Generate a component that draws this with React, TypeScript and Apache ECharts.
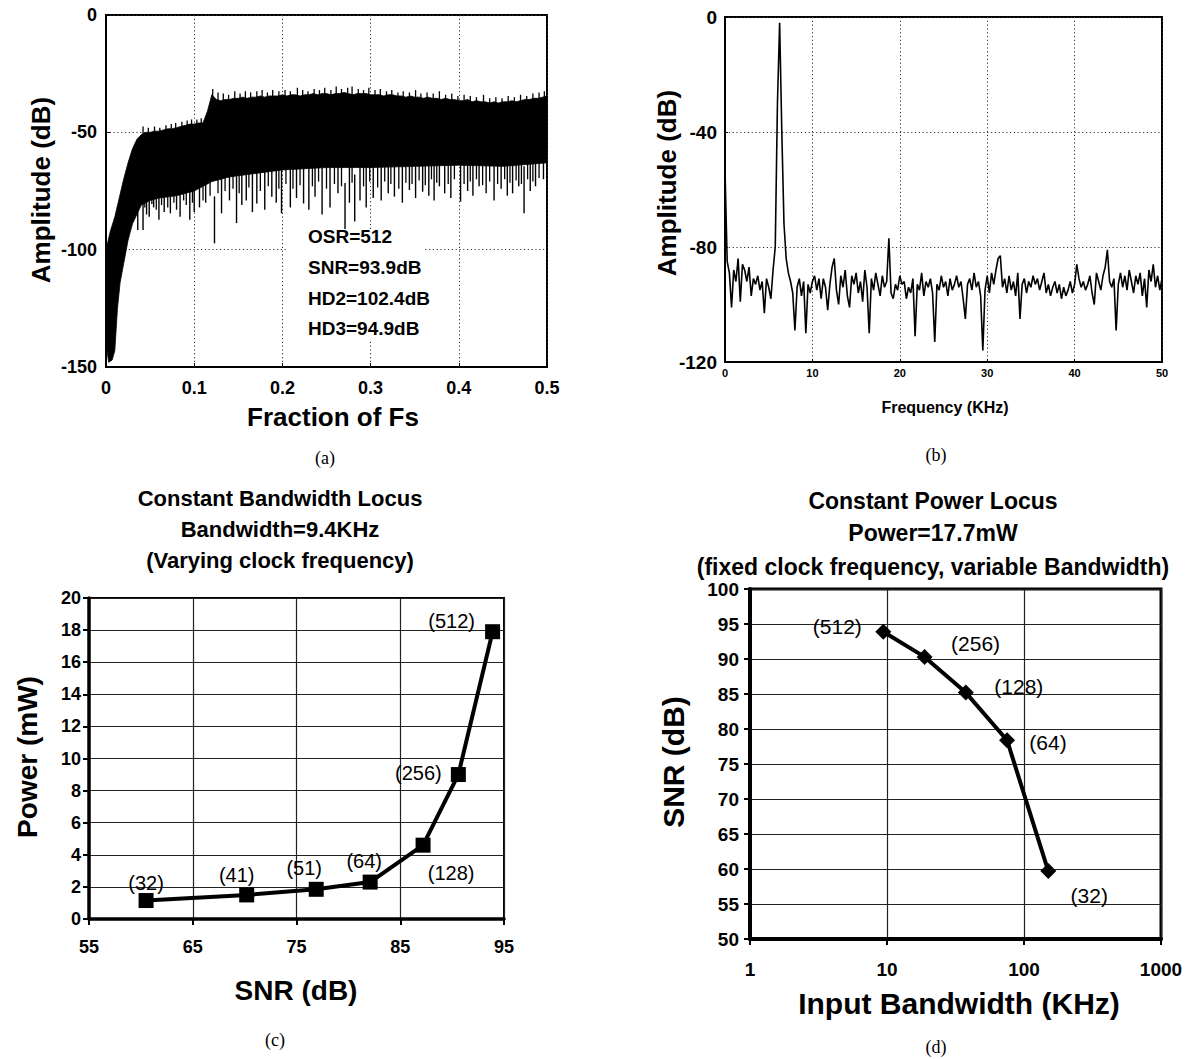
import React, { useEffect, useRef } from 'react';
import * as echarts from 'echarts';

const FONT = "'Liberation Sans', Arial, Helvetica, sans-serif";
const SERIF = "'Liberation Serif', 'Times New Roman', serif";

// ---------- (a) output spectrum, OSR = 512 ----------
const aBinStep = 0.005; // fraction of Fs between upper-envelope readings
const aUpper = [
  -100, -92, -86, -78, -70, -63, -57, -53, -51, -50,
  -50, -49.5, -49.5, -49, -48.5, -48.5, -48, -47.5, -47, -46.5,
  -46.5, -46, -46, -41, -34, -36, -36.5, -36, -36, -35.5,
  -35.5, -35, -35.5, -35, -35, -34.5, -35, -34.5, -34.5, -34.5,
  -34, -34.5, -34, -34, -34.5, -34, -34, -33.5, -34, -33.5,
  -33.5, -34, -33.5, -33.5, -33, -33.5, -34, -33.5, -33.5, -33.5,
  -34, -34, -34, -34.5, -34, -34, -34.5, -34.5, -35, -34.5,
  -35, -35, -35.5, -35, -35.5, -35.5, -36, -35.5, -36, -36,
  -36.5, -36.5, -36, -37, -36.5, -37, -37, -37.5, -37, -37.5,
  -37, -37, -36.5, -37, -36.5, -36, -36, -35.5, -35.5, -35,
  -34.5,
];
const aLowerX = [0, 0.003, 0.007, 0.01, 0.013, 0.016, 0.02, 0.025, 0.03, 0.035, 0.04, 0.05, 0.06, 0.08, 0.1, 0.12, 0.14, 0.16, 0.18, 0.2, 0.25, 0.3, 0.35, 0.4, 0.45, 0.5];
const aLowerY = [-140, -148, -147, -143, -125, -114, -106, -96, -89, -85, -81, -79, -78, -77, -75, -71, -69, -68, -67, -66, -65, -65, -64.5, -64, -64.5, -63];
// upward noise peaks on the top edge
const aPeakX = [
  0.042, 0.048, 0.055, 0.061, 0.068, 0.074, 0.079, 0.086, 0.092, 0.097, 0.103, 0.108,
  0.121, 0.127, 0.133, 0.139, 0.146, 0.152, 0.158, 0.164, 0.171, 0.177, 0.183, 0.189,
  0.196, 0.203, 0.209, 0.217, 0.223, 0.229, 0.236, 0.242, 0.248, 0.255, 0.261, 0.267,
  0.274, 0.279, 0.286, 0.292, 0.298, 0.305, 0.311, 0.318, 0.324, 0.331, 0.337, 0.344,
  0.351, 0.357, 0.364, 0.371, 0.378, 0.385, 0.392, 0.399, 0.406, 0.413, 0.42, 0.428,
  0.435, 0.442, 0.449, 0.456, 0.463, 0.47, 0.477, 0.484, 0.491, 0.497,
];
const aPeakY = [
  -47.5, -48, -47.5, -48, -47, -46.5, -46, -45.5, -45, -44.5, -44.5, -44,
  -31.5, -33, -33.5, -34, -32.5, -33.5, -32.5, -33, -32.5, -32, -33, -32,
  -32.5, -32, -32.5, -31, -32, -32.5, -31.5, -32, -31, -32, -30.5, -31.5,
  -31, -30.5, -31.5, -32, -31, -32, -31.5, -32.5, -32, -33, -32.5, -33,
  -32, -33.5, -33, -33.5, -32.5, -34, -33.5, -34.5, -34, -34.5, -35, -34,
  -35.5, -35, -35.5, -34.5, -35, -34, -34.5, -33.5, -33, -32.5,
];
// downward noise spikes below the dense band
const aSpikeX = [
  0.033, 0.036, 0.042, 0.046, 0.049, 0.054, 0.06, 0.066, 0.073, 0.08, 0.084, 0.088, 0.095, 0.1, 0.106, 0.113,
  0.123, 0.131, 0.14, 0.148, 0.154, 0.159, 0.166, 0.171, 0.18, 0.188, 0.193, 0.199, 0.209, 0.216, 0.224, 0.23,
  0.237, 0.245, 0.254, 0.263, 0.271, 0.276, 0.282, 0.288, 0.295, 0.303, 0.312, 0.32, 0.327, 0.336, 0.344, 0.351,
  0.359, 0.366, 0.372, 0.378, 0.384, 0.391, 0.402, 0.41, 0.416, 0.423, 0.431, 0.44, 0.448, 0.455, 0.461, 0.468,
  0.474, 0.481, 0.487, 0.496,
];
const aSpikeY = [
  -84.5, -91.6, -91.6, -85, -86, -82, -87.3, -84, -84.5, -83, -86, -79, -87.3, -84, -82, -80,
  -97.3, -84.5, -79, -88.7, -81, -79, -84, -80.3, -83, -77.4, -80, -84.5, -82, -78, -80.3, -83,
  -77.4, -85, -82, -76, -91.6, -80, -88, -79, -82, -78, -79, -76, -77.4, -80, -74.6, -78,
  -75.3, -77, -79, -73, -76, -78, -79.5, -75, -77, -73, -76, -79, -74, -77, -76, -73,
  -84.5, -75, -73, -70,
];
// shallower dips filling the ragged lower fringe
const aDipX = [
  0.044, 0.052, 0.057, 0.063, 0.07, 0.077, 0.091, 0.098, 0.11, 0.118, 0.127, 0.135, 0.144, 0.151,
  0.162, 0.175, 0.184, 0.196, 0.204, 0.212, 0.22, 0.234, 0.241, 0.25, 0.259, 0.267, 0.279, 0.292,
  0.299, 0.308, 0.316, 0.323, 0.332, 0.34, 0.347, 0.355, 0.362, 0.369, 0.375, 0.388, 0.395, 0.406,
  0.413, 0.42, 0.427, 0.435, 0.444, 0.452, 0.458, 0.465, 0.471, 0.478, 0.484, 0.491,
];
const aDipY = [
  -82, -80.5, -83, -81, -82, -80, -81, -80, -79, -77, -76, -75, -74, -76,
  -73.5, -75, -73, -74, -72, -74, -72.5, -73, -71, -74, -72, -73, -71.5, -73,
  -71, -73.5, -71, -72, -74, -71.5, -72, -70.5, -72.5, -70, -71.5, -72, -70, -72,
  -71, -70, -72.5, -71, -72, -70, -71.5, -70.5, -72, -70, -71, -69.5,
];
const aNotes = ['OSR=512', 'SNR=93.9dB', 'HD2=102.4dB', 'HD3=94.9dB'];

// ---------- (b) output spectrum vs frequency ----------
const bBinStep = 0.25; // kHz between readings
const bAmplitude = [
  -53, -85, -89, -101, -88, -92, -84, -99, -86, -88, -92, -87, -97, -91, -93, -90, -95, -92, -103, -91,
  -94, -98, -88, -80, -30, -2, -40, -72, -84, -89, -92, -96, -109, -94, -91, -97, -92, -110, -93, -96,
  -92, -90, -95, -91, -98, -91, -94, -102, -93, -87, -84, -95, -100, -90, -94, -88, -97, -101, -90, -93,
  -89, -96, -92, -99, -88, -94, -110, -91, -95, -89, -93, -97, -90, -94, -92, -77, -96, -98, -93, -95,
  -90, -93, -92, -98, -94, -96, -91, -111, -93, -95, -89, -97, -92, -94, -91, -96, -113, -93, -95, -90,
  -94, -92, -97, -91, -95, -93, -90, -94, -92, -98, -105, -93, -91, -95, -89, -94, -92, -97, -116, -95,
  -90, -96, -89, -93, -88, -84, -83, -94, -91, -96, -90, -95, -92, -97, -89, -105, -93, -91, -96, -92,
  -94, -90, -93, -91, -95, -92, -89, -96, -93, -97, -94, -92, -96, -93, -98, -94, -97, -95, -92, -96,
  -93, -86, -91, -94, -92, -95, -93, -90, -96, -100, -89, -92, -95, -90, -87, -81, -92, -94, -91, -109,
  -93, -89, -94, -90, -95, -88, -92, -96, -90, -93, -89, -97, -91, -101, -88, -92, -86, -94, -90, -95,
  -91,
];

// ---------- (c) constant bandwidth locus ----------
const cSnr = [60.5, 70.2, 76.9, 82.1, 87.2, 90.6, 93.9];
const cPower = [1.15, 1.5, 1.85, 2.3, 4.6, 9.0, 17.9];
const cOsr = ['(32)', '(41)', '(51)', '(64)', '(128)', '(256)', '(512)'];
const cTitle = ['Constant Bandwidth Locus', 'Bandwidth=9.4KHz', '(Varying clock frequency)'];

// ---------- (d) constant power locus ----------
const dBandwidth = [9.4, 18.8, 37.6, 75.2, 150.4];
const dSnr = [93.9, 90.3, 85.2, 78.4, 59.7];
const dOsr = ['(512)', '(256)', '(128)', '(64)', '(32)'];
const dTitle = ['Constant Power Locus', 'Power=17.7mW', '(fixed clock frequency, variable Bandwidth)'];

// label placement (layout only)
const cLabelOffset = [[0, -18], [-10, -20], [-12, -21], [-6, -21], [28, 28], [-40, -2], [-41, -11]];
const dLabelOffset = [[-46, -5], [51, -13], [53, -6], [41, 2], [41, 24]];

function txt(x: number, y: number, t: string, size: number, o: any = {}) {
  const align = o.align || 'center';
  return {
    type: 'text',
    x,
    y,
    rotation: o.rotation || 0,
    z: o.z || 20,
    style: {
      text: t,
      fill: '#000',
      fontSize: size,
      fontWeight: o.weight || 'bold',
      fontFamily: o.family || FONT,
      align,
      verticalAlign: 'middle',
      textAlign: align,
      textVerticalAlign: 'middle',
    },
  };
}

function axis(type: string, gridIndex: number, min: number, max: number, interval: number | undefined, o: any) {
  const a: any = {
    type,
    gridIndex,
    min,
    max,
    axisLine: { show: true, onZero: false, lineStyle: { color: '#000', width: o.lineWidth } },
    axisTick: { show: true, inside: o.tickInside, length: o.tickLen, lineStyle: { color: '#000', width: o.tickWidth || 1 } },
    axisLabel: { margin: o.margin, fontSize: o.fontSize, fontWeight: 'bold', color: '#000', fontFamily: FONT },
    splitLine: { show: true, lineStyle: { color: o.gridColor, width: o.gridWidth, type: o.gridType } },
  };
  if (interval !== undefined) a.interval = interval;
  if (type === 'log') {
    a.logBase = 10;
    a.axisLabel.formatter = (v: number) => String(Math.round(v));
  }
  return a;
}

function segmentSeries(xs: number[], ys: number[], reach: number, width: number) {
  return {
    type: 'custom',
    xAxisIndex: 0,
    yAxisIndex: 0,
    z: 3,
    data: xs.map((x, i) => [x, ys[i]]),
    renderItem: (_p: any, api: any) => {
      const x = api.value(0);
      const y = api.value(1);
      const p1 = api.coord([x, y]);
      const p2 = api.coord([x, y + reach]);
      return { type: 'line', shape: { x1: p1[0], y1: p1[1], x2: p2[0], y2: p2[1] }, style: { stroke: '#000', lineWidth: width } };
    },
  };
}

function buildOption() {
  const dotted = [1.2, 2.6];
  const grids = [
    { left: 106, top: 15, width: 441, height: 352, show: true, borderColor: '#000', borderWidth: 2 },
    { left: 725, top: 17, width: 437, height: 345, show: true, borderColor: '#000', borderWidth: 2 },
    { left: 89, top: 598, width: 415, height: 321, show: true, borderColor: '#000', borderWidth: 2 },
    { left: 750, top: 589, width: 411, height: 350, show: true, borderColor: '#000', borderWidth: 3 },
  ];
  const xAxis = [
    axis('value', 0, 0, 0.5, 0.1, { lineWidth: 2, tickInside: true, tickLen: 4, margin: 12, fontSize: 18, gridColor: '#333', gridWidth: 1, gridType: dotted }),
    axis('value', 1, 0, 50, 10, { lineWidth: 2, tickInside: true, tickLen: 3, margin: 5, fontSize: 11, gridColor: '#333', gridWidth: 1, gridType: dotted }),
    axis('value', 2, 55, 95, 10, { lineWidth: 3.5, tickInside: false, tickLen: 6, tickWidth: 2, margin: 19, fontSize: 18, gridColor: '#222', gridWidth: 1.2, gridType: 'solid' }),
    axis('log', 3, 1, 1000, undefined, { lineWidth: 4, tickInside: false, tickLen: 6, tickWidth: 2, margin: 21, fontSize: 19, gridColor: '#222', gridWidth: 1.2, gridType: 'solid' }),
  ];
  const yAxis = [
    axis('value', 0, -150, 0, 50, { lineWidth: 2, tickInside: true, tickLen: 4, margin: 9, fontSize: 18, gridColor: '#333', gridWidth: 1, gridType: dotted }),
    axis('value', 1, -120, 0, 40, { lineWidth: 2, tickInside: true, tickLen: 3, margin: 8, fontSize: 19, gridColor: '#333', gridWidth: 1, gridType: dotted }),
    axis('value', 2, 0, 20, 2, { lineWidth: 3.5, tickInside: false, tickLen: 6, tickWidth: 2, margin: 8, fontSize: 18, gridColor: '#222', gridWidth: 1.2, gridType: 'solid' }),
    axis('value', 3, 50, 100, 5, { lineWidth: 4, tickInside: false, tickLen: 6, tickWidth: 2, margin: 11, fontSize: 19, gridColor: '#222', gridWidth: 1.2, gridType: 'solid' }),
  ];

  const series: any[] = [
    {
      type: 'custom',
      xAxisIndex: 0,
      yAxisIndex: 0,
      data: [[0.25, -60]],
      z: 3,
      renderItem: (params: any, api: any) => {
        if (params.dataIndex !== 0) return;
        const pts: number[][] = [];
        aUpper.forEach((v, i) => pts.push(api.coord([i * aBinStep, v])));
        for (let j = aLowerX.length - 1; j >= 0; j--) pts.push(api.coord([aLowerX[j], aLowerY[j]]));
        return { type: 'polygon', shape: { points: pts }, style: { fill: '#000', stroke: '#000', lineWidth: 0.8 } };
      },
    },
    segmentSeries(aPeakX, aPeakY, -8, 1.3),
    segmentSeries(aSpikeX, aSpikeY, 20, 1.4),
    segmentSeries(aDipX, aDipY, 12, 1.3),
    {
      type: 'line',
      xAxisIndex: 1,
      yAxisIndex: 1,
      showSymbol: false,
      symbol: 'none',
      lineStyle: { color: '#000', width: 1.6 },
      data: bAmplitude.map((v, i) => [i * bBinStep, v]),
    },
    {
      type: 'line',
      xAxisIndex: 2,
      yAxisIndex: 2,
      symbol: 'rect',
      symbolSize: 15,
      itemStyle: { color: '#000' },
      lineStyle: { color: '#000', width: 4 },
      data: cSnr.map((x, i) => ({
        value: [x, cPower[i]],
        label: {
          show: true,
          formatter: cOsr[i],
          position: 'inside',
          offset: cLabelOffset[i],
          fontSize: 20,
          color: '#000',
          fontFamily: FONT,
        },
      })),
    },
    {
      type: 'line',
      xAxisIndex: 3,
      yAxisIndex: 3,
      symbol: 'diamond',
      symbolSize: 16,
      itemStyle: { color: '#000' },
      lineStyle: { color: '#000', width: 4 },
      data: dBandwidth.map((x, i) => ({
        value: [x, dSnr[i]],
        label: {
          show: true,
          formatter: dOsr[i],
          position: 'inside',
          offset: dLabelOffset[i],
          fontSize: 21,
          color: '#000',
          fontFamily: FONT,
        },
      })),
    },
  ];

  const graphic: any[] = [
    { type: 'rect', shape: { x: 287, y: 229, width: 136, height: 112 }, style: { fill: '#fff' }, z: 8 },
    ...aNotes.map((t, i) => txt(308, [236, 267, 298, 328][i], t, 19, { align: 'left' })),
    txt(41, 190, 'Amplitude (dB)', 26, { rotation: Math.PI / 2 }),
    txt(333, 417, 'Fraction of Fs', 26),
    txt(325, 458, '(a)', 18, { weight: 'normal', family: SERIF }),
    txt(667, 183, 'Amplitude (dB)', 26, { rotation: Math.PI / 2 }),
    txt(945, 407, 'Frequency (KHz)', 16),
    txt(936, 455, '(b)', 18, { weight: 'normal', family: SERIF }),
    ...cTitle.map((t, i) => txt(280, [498, 529, 560][i], t, 22)),
    txt(27, 757, 'Power (mW)', 28, { rotation: Math.PI / 2 }),
    txt(296, 990, 'SNR (dB)', 28),
    txt(275, 1040, '(c)', 18, { weight: 'normal', family: SERIF }),
    ...dTitle.map((t, i) => txt(933, [501, 533, 567][i], t, 23)),
    txt(673, 762, 'SNR (dB)', 30, { rotation: Math.PI / 2 }),
    txt(959, 1003, 'Input Bandwidth (KHz)', 30),
    txt(936, 1047, '(d)', 18, { weight: 'normal', family: SERIF }),
  ];

  return {
    animation: false,
    backgroundColor: '#fff',
    textStyle: { fontFamily: FONT },
    grid: grids,
    xAxis,
    yAxis,
    series,
    graphic,
  };
}

export default function App() {
  const ref = useRef<HTMLDivElement>(null);
  useEffect(() => {
    const chart = echarts.init(ref.current as HTMLDivElement, null, { renderer: 'svg' });
    chart.setOption(buildOption() as any);
    return () => chart.dispose();
  }, []);
  return (
    <div
      ref={ref}
      style={{ position: 'absolute', left: 0, top: 0, width: 1188, height: 1059, background: '#fff' }}
    />
  );
}
